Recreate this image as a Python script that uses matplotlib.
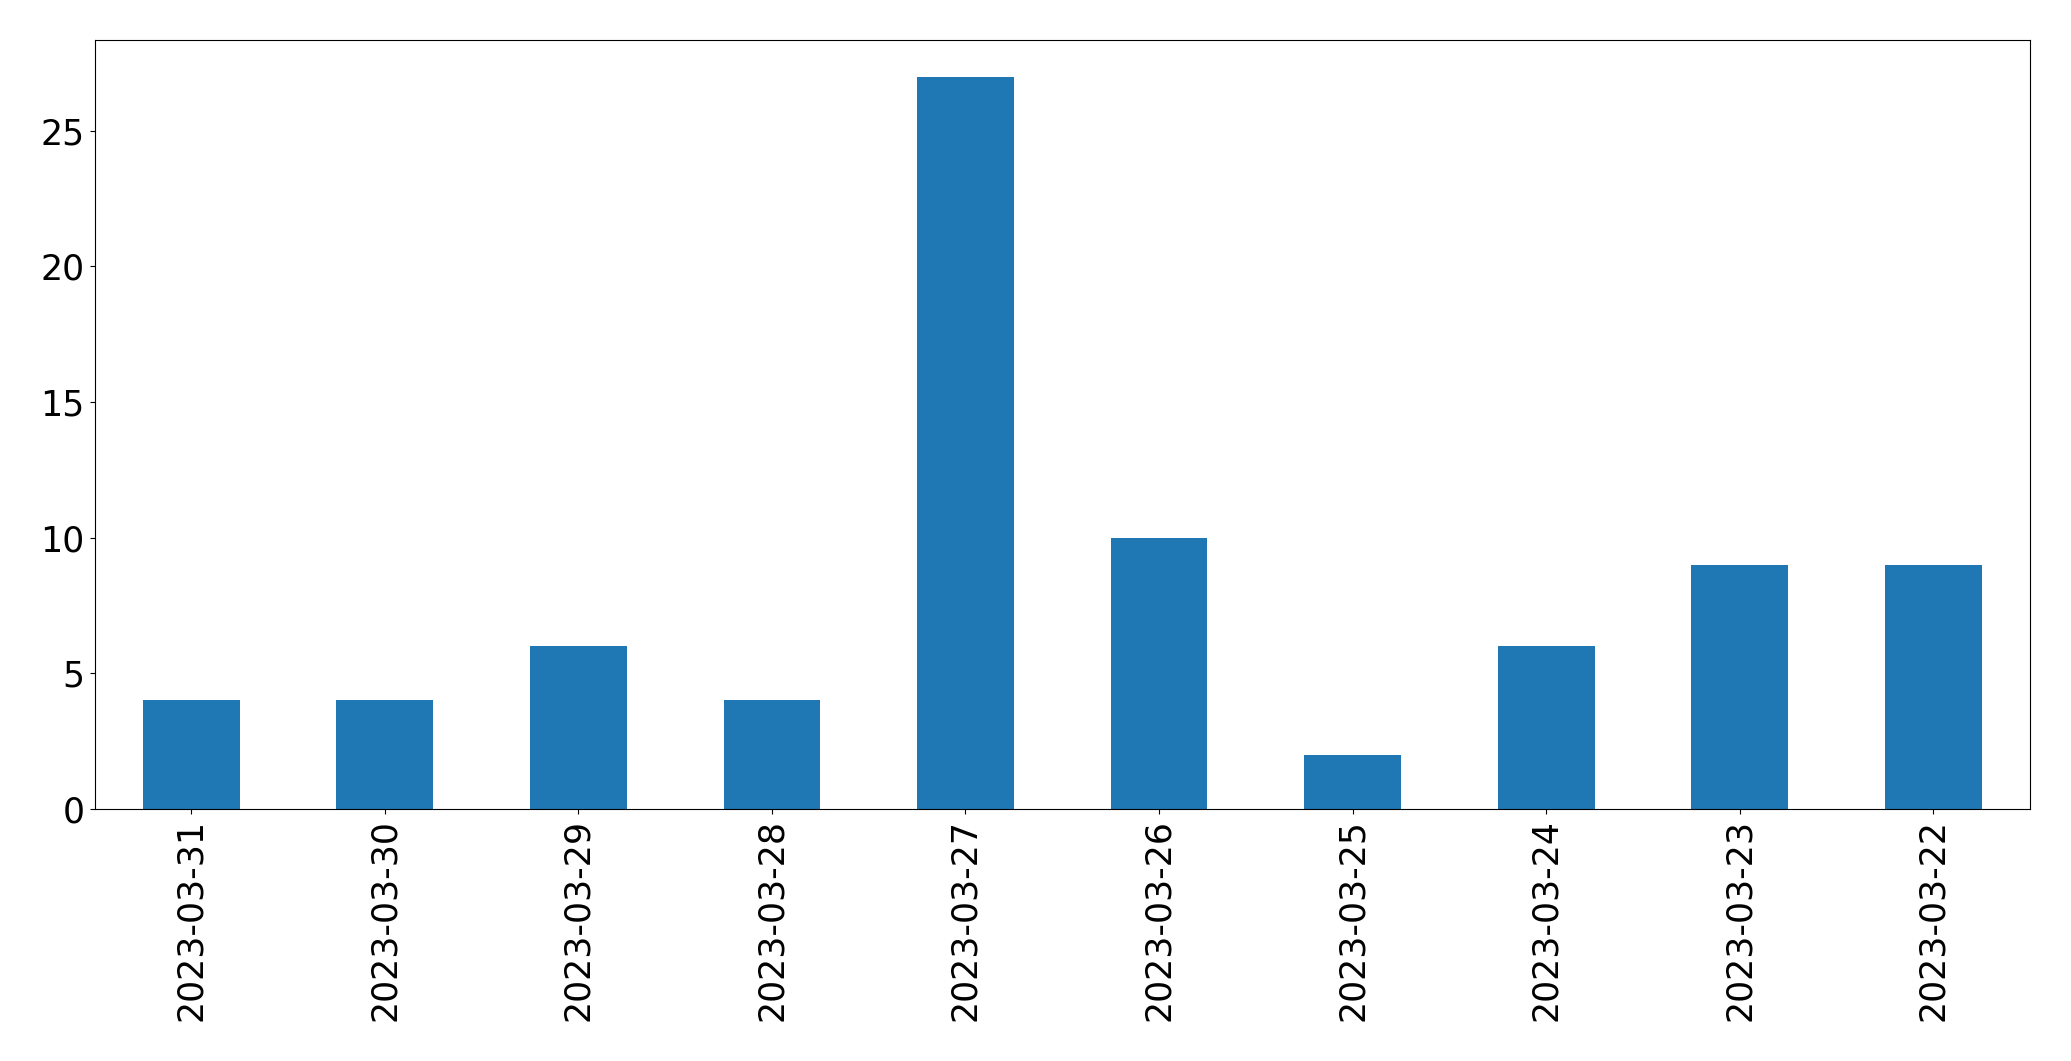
import matplotlib
matplotlib.use("Agg")
import matplotlib.pyplot as plt
import pandas as pd

dates = ["2023-03-31", "2023-03-30", "2023-03-29", "2023-03-28", "2023-03-27",
         "2023-03-26", "2023-03-25", "2023-03-24", "2023-03-23", "2023-03-22"]
counts = [4, 4, 6, 4, 27, 10, 2, 6, 9, 9]

s = pd.Series(counts, index=dates)

fig = plt.figure(figsize=(20.71, 10.61), dpi=100)
ax = fig.add_axes([94.5 / 2071, 1 - 809 / 1061, (2030 - 94.5) / 2071, (809 - 40) / 1061])
s.plot(kind="bar", ax=ax, color="#1f77b4")
ax.tick_params(axis="both", labelsize=25)
fig.savefig("out.png", dpi=100)
